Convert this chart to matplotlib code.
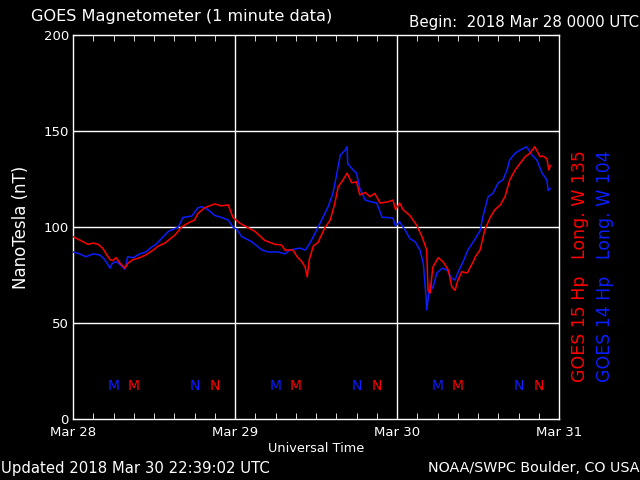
import matplotlib
matplotlib.use("Agg")
import matplotlib.pyplot as plt
import numpy as np

# hours since 2018 Mar 28 00:00 UT
red_hours = [0, 1.5, 2.2, 3, 3.7, 4.4, 4.9, 5.5, 5.9, 6.4, 7, 7.7, 8.1, 8.9, 9.9, 10.8, 11.9, 12.6,
             13.6, 15.1, 16.1, 17, 18, 18.5, 19.5, 21, 22, 23, 23.7, 24.7, 25.5, 27, 28.4, 29.9,
             30.9, 31.4, 32.6, 33.2, 33.9, 34.4, 34.7, 35, 35.6, 36.3, 37.3, 38.1, 38.8, 39.3,
             40, 40.6, 41.3, 42, 42.5, 43.3, 44, 44.7, 45.5, 46.5, 47.4, 47.8, 48.4, 48.9, 49.9,
             50.9, 51.7, 52.4, 52.6, 52.9, 53.3, 54.1, 54.8, 55.6, 56.1, 56.6, 57, 57.6, 58.4,
             59.3, 59.6, 60.3, 61, 61.8, 62.5, 63.3, 64, 64.7, 65.5, 66.2, 67, 67.7, 68.4, 69.2,
             69.6, 70.2, 70.5, 70.7]
red_vals = [95, 92.3, 91, 91.6, 91, 89, 86, 83, 82.5, 84, 81, 78.6, 81, 83, 84, 85.5, 88, 90,
            91.6, 95.8, 100, 102, 103.6, 107, 110, 112, 111, 111.5, 105, 102, 100.5, 97.6, 93, 91,
            90.6, 88, 88, 84.5, 82, 79, 74, 83, 90, 92, 99.5, 103.6, 112.5, 121,
            124.5, 128, 123, 123.6, 116.7, 118, 115.8, 117.5, 112.5, 113, 114, 109, 112.5, 109, 106,
            101, 95, 88, 67, 65.6, 79, 84, 82, 77.6, 69, 67, 72, 76.7, 76,
            82, 84.5, 88, 98.4, 105, 109, 111.5, 115.8, 124.5, 129.7, 133, 136.6, 138.4, 141.8, 136.6,
            137, 135.6, 129.7, 132]

blue_hours = [0, 1, 1.9, 3, 4, 4.7, 5.5, 5.8, 6.4, 7.1, 7.7, 8.1, 8.9, 9.9, 10.8, 11.6, 12.3,
              14.1, 15.6, 16.3, 17.6, 18.5, 19.1, 20, 21, 22, 23, 23.7, 24.2, 25, 26.5, 28, 28.9,
              30.4, 31.4, 32.1, 33.6, 34.4, 35.1, 35.9, 36.6, 37.8, 38.5, 39.1, 39.6, 40.3, 40.6,
              40.7, 41.5, 42, 42.5, 43.3, 44.3, 45, 45.8, 46.5, 47.4, 47.8, 48.4, 49.2, 49.9, 50.7,
              51.4, 51.9, 52.3, 52.4, 52.9, 53.3, 53.9, 54.7, 55.4, 56.1, 56.6, 57, 57.8, 58.5,
              59.6, 60.3, 60.7, 61.5, 62.2, 63, 63.7, 64.3, 64.7, 65.5, 66.2, 67.2, 68, 68.7, 69.5,
              70.2, 70.4, 70.7]
blue_vals = [87, 86, 84.5, 86, 85.4, 83, 78.6, 81, 82, 80, 78, 84.5, 84, 86, 87, 89.4, 91,
             97.6, 100, 105, 105.7, 110, 110.6, 109, 106, 105, 103.6, 100, 99, 95, 92.3, 88, 87,
             87, 86, 88, 89, 88, 91.6, 97, 102, 110.6, 117.5, 128, 137.5, 140, 141.8,
             133, 129.7, 128, 120, 114, 113, 112.5, 105, 105, 104.6, 100.5, 102.7, 98.4, 94, 92.3,
             88, 81, 63.7, 56.8, 70.8, 68, 76, 78.6, 77.6, 73.4, 72.4, 76, 82, 88,
             94, 98, 105, 115.8, 117.5, 123, 124.5, 129.7, 135, 138.4, 140, 141.8, 137.5, 135, 128,
             124.5, 119, 120]

blue_marks = [(6, "M"), (18, "N"), (30, "M"), (42, "N"), (54, "M"), (66, "N")]
red_marks = [(9, "M"), (21, "N"), (33, "M"), (45, "N"), (57, "M"), (69, "N")]

day_labels = ["Mar 28", "Mar 29", "Mar 30", "Mar 31"]
y_ticks = [0, 50, 100, 150, 200]

RED = "#ff0000"
BLUE = "#0a1eff"
FONT = "DejaVu Sans"

fig = plt.figure(figsize=(6.4, 4.8), dpi=100, facecolor="black")
ax = fig.add_axes([73/640, 1-419/480, 486/640, 384/480], facecolor="black")

ax.set_xlim(0, 72)
ax.set_ylim(0, 200)

for d in [24, 48]:
    ax.axvline(d, color="white", lw=1.0, zorder=1)
for v in [50, 100, 150]:
    ax.axhline(v, color="white", lw=1.0, zorder=1)

ax.plot(blue_hours, blue_vals, color=BLUE, lw=1.1, zorder=3)
ax.plot(red_hours, red_vals, color=RED, lw=1.1, zorder=3)

for h, t in blue_marks:
    ax.text(h, 17, t, color=BLUE, ha="center", va="center", fontsize=10, family=FONT)
for h, t in red_marks:
    ax.text(h, 17, t, color=RED, ha="center", va="center", fontsize=10, family=FONT)

for s in ax.spines.values():
    s.set_color("white")
    s.set_linewidth(1.0)

ax.set_xticks([0, 24, 48, 72])
ax.set_xticklabels(day_labels)
ax.set_xticks(np.arange(0, 73, 3), minor=True)
ax.set_yticks(y_ticks)
ax.set_yticklabels([str(v) for v in y_ticks])
ax.tick_params(axis="both", which="both", direction="in", colors="white",
               top=True, right=True, labelsize=9.5)
ax.tick_params(axis="x", which="major", length=0, pad=5)
ax.tick_params(axis="x", which="minor", length=4)
ax.tick_params(axis="y", which="major", length=5, pad=3)
for lbl in ax.get_xticklabels() + ax.get_yticklabels():
    lbl.set_family(FONT)

ax.set_xlabel("Universal Time", color="white", fontsize=9.3, family=FONT, labelpad=2)
ax.set_ylabel("NanoTesla (nT)", color="white", fontsize=12, family=FONT, labelpad=10)

fig.text(31/640, 1-17/480, "GOES Magnetometer (1 minute data)", color="white",
         fontsize=11.6, family=FONT, ha="left", va="center")
fig.text(639/640, 1-22/480, "Begin:  2018 Mar 28 0000 UTC", color="white",
         fontsize=10.8, family=FONT, ha="right", va="center")
fig.text(1/640, 1-468/480, "Updated 2018 Mar 30 22:39:02 UTC", color="white",
         fontsize=10.7, family=FONT, ha="left", va="center")
fig.text(639/640, 1-468/480, "NOAA/SWPC Boulder, CO USA", color="white",
         fontsize=10.3, family=FONT, ha="right", va="center")
fig.text(580/640, 1-266/480, "GOES 15 Hp   Long. W 135", color=RED, rotation=90,
         fontsize=12.5, family=FONT, ha="center", va="center")
fig.text(605/640, 1-266/480, "GOES 14 Hp   Long. W 104", color=BLUE, rotation=90,
         fontsize=12.5, family=FONT, ha="center", va="center")

fig.savefig("out.png", dpi=100, facecolor="black")
